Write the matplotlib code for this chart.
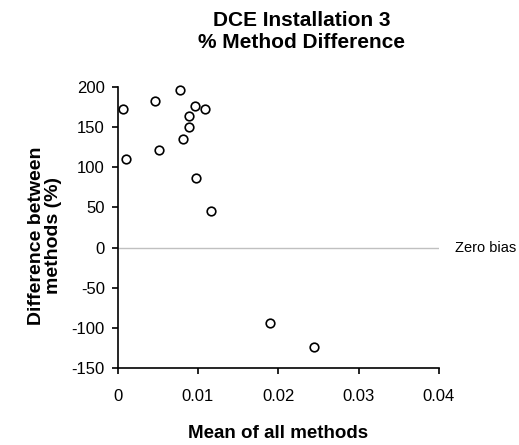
import matplotlib
matplotlib.use("Agg")
import matplotlib.pyplot as plt

plt.rcParams['font.family'] = ['Liberation Sans', 'DejaVu Sans']
plt.rcParams['axes.unicode_minus'] = False

mean_all = [0.00065, 0.00102, 0.0047, 0.00512, 0.00773, 0.00817, 0.00892,
            0.00892, 0.00959, 0.01083, 0.00979, 0.01161, 0.01898, 0.0245]
pct_diff = [173, 110, 182, 121, 196, 135, 164, 150, 176, 173, 87, 46, -94, -124]

title = "DCE Installation 3\n% Method Difference"
xlabel = "Mean of all methods"
ylabel = "Difference between\nmethods (%)"
xticks = [0, 0.01, 0.02, 0.03, 0.04]
xticklabels = ["0", "0.01", "0.02", "0.03", "0.04"]
yticks = [-150, -100, -50, 0, 50, 100, 150, 200]
bias_label = "Zero bias"

fig = plt.figure(figsize=(5.19, 4.45), dpi=100)
ax = fig.add_axes([117.5 / 519, 77 / 445, 321.5 / 519, 281 / 445])

ax.axhline(0, color="#c0c0c0", lw=1, zorder=1)
ax.plot(mean_all, pct_diff, linestyle="none", marker="o", markersize=6.2,
        markerfacecolor="white", markeredgecolor="black", markeredgewidth=1.2,
        zorder=3, clip_on=False)

ax.set_xlim(0, 0.04)
ax.set_ylim(-150, 200)
ax.set_xticks(xticks)
ax.set_xticklabels(xticklabels)
ax.set_yticks(yticks)

for s in ["top", "right"]:
    ax.spines[s].set_visible(False)
for s in ["left", "bottom"]:
    ax.spines[s].set_linewidth(1.2)
    ax.spines[s].set_color("black")

ax.tick_params(axis="both", direction="out", length=4, width=1.2, labelsize=12,
               colors="black")
ax.tick_params(axis="x", pad=11)
ax.tick_params(axis="y", pad=5)

ax.text(1.05, 0, bias_label, transform=ax.get_yaxis_transform(),
        fontsize=10.5, va="center", ha="left")

fig.text(302 / 519, 1 - 32 / 445, title, ha="center", va="center",
         fontsize=15, fontweight="bold", linespacing=1.2)
fig.text(278 / 519, 1 - 433 / 445, xlabel, ha="center", va="center",
         fontsize=13.5, fontweight="bold")
fig.text(45 / 519, 1 - 236 / 445, ylabel, ha="center", va="center",
         rotation=90, fontsize=14, fontweight="bold", linespacing=1.0)

fig.savefig("out.png", dpi=100)
